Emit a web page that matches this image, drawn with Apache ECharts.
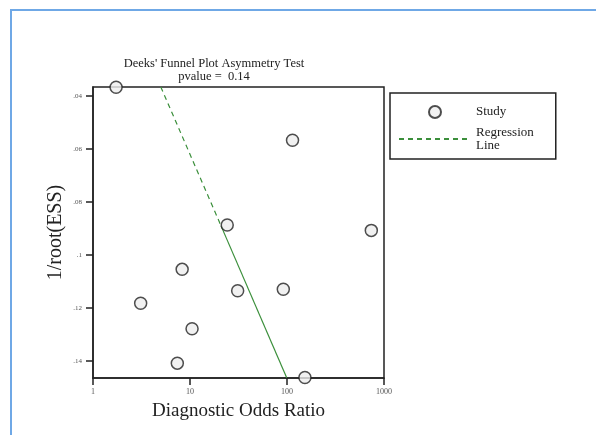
<!DOCTYPE html>
<html>
<head>
<meta charset="utf-8">
<script src="https://cdn.jsdelivr.net/npm/echarts@6/dist/echarts.min.js"></script>
<style>
  html, body { margin: 0; padding: 0; background: #fff; }
  #chart { width: 596px; height: 435px; }
</style>
</head>
<body>
<div id="chart"></div>
<script>
// study points: [diagnostic odds ratio, 1/root(ESS)]
const studyDOR = [1.73, 114, 24.2, 740, 8.3, 31, 91.6, 3.1, 10.5, 7.4, 153];
const studyInvEss = [0.0367, 0.0567, 0.0887, 0.0907, 0.1054, 0.1135, 0.1129, 0.1182, 0.1278, 0.1408, 0.1462];

// regression line, dashed part then solid part
const regDashed = [[5.0, 0.0366], [20.9, 0.089]];
const regSolid = [[20.9, 0.089], [99.3, 0.1463]];

const xTicks = [1, 10, 100, 1000];
const yTicks = [0.04, 0.06, 0.08, 0.1, 0.12, 0.14];
const yMin = 0.0366;
const yMax = 0.1464;

const SERIF = '"Liberation Serif", "DejaVu Serif", serif';
const GREEN = '#3b8f3b';

const fmtY = (v) => String(+v.toFixed(2)).replace(/^0/, '');

const chart = echarts.init(document.getElementById('chart'));

chart.setOption({
  animation: false,
  backgroundColor: '#fff',
  title: {
    text: "Deeks' Funnel Plot Asymmetry Test\npvalue =  0.14",
    left: 209,
    textAlign: 'center',
    top: 52,
    textStyle: {
      fontFamily: SERIF,
      fontSize: 12.5,
      fontWeight: 'normal',
      color: '#222',
      lineHeight: 13,
    },
  },
  graphic: [
    {
      type: 'rect',
      shape: { x: 11, y: 10, width: 600, height: 440 },
      style: { fill: 'none', stroke: '#6fa8e6', lineWidth: 2 },
      silent: true,
    },
  ],
  legend: {
    orient: 'vertical',
    left: 390,
    top: 93,
    padding: [12, 22, 7, 8],
    itemGap: 7,
    itemWidth: 72,
    itemHeight: 12,
    borderColor: '#222',
    borderWidth: 1.5,
    data: [
      { name: 'Study' },
      { name: 'Regression\nLine', itemStyle: { opacity: 0 } },
    ],
    textStyle: { fontFamily: SERIF, fontSize: 13, color: '#222', lineHeight: 13 },
  },
  grid: {
    left: 93,
    right: 212,
    top: 87,
    bottom: 57,
    show: true,
    borderColor: '#222',
    borderWidth: 1.5,
  },
  xAxis: {
    type: 'log',
    logBase: 10,
    min: 1,
    max: 1000,
    name: 'Diagnostic Odds Ratio',
    nameLocation: 'middle',
    nameGap: 24,
    nameTextStyle: { fontFamily: SERIF, fontSize: 19, color: '#222' },
    axisLine: { show: true, lineStyle: { color: '#222', width: 1.5 } },
    axisTick: { show: true, length: 7, lineStyle: { color: '#222', width: 1.5 }, customValues: xTicks },
    axisLabel: {
      fontFamily: SERIF,
      fontSize: 8,
      color: '#555',
      margin: 10,
      customValues: xTicks,
      formatter: (v) => String(Math.round(v)),
    },
    splitLine: { show: false },
  },
  yAxis: {
    type: 'value',
    inverse: true,
    min: yMin,
    max: yMax,
    name: '1/root(ESS)',
    nameLocation: 'middle',
    nameGap: 27,
    nameTextStyle: { fontFamily: SERIF, fontSize: 20, color: '#222' },
    axisLine: { show: true, lineStyle: { color: '#222', width: 1.5 } },
    axisTick: { show: true, length: 7, lineStyle: { color: '#222', width: 1.5 }, customValues: yTicks },
    axisLabel: {
      fontFamily: SERIF,
      fontSize: 7,
      color: '#555',
      margin: 11,
      customValues: yTicks,
      formatter: (v) => fmtY(v),
    },
    splitLine: { show: false },
  },
  series: [
    {
      name: 'Study',
      type: 'scatter',
      symbol: 'circle',
      symbolSize: 12,
      itemStyle: { color: '#eeeeee', borderColor: '#222', borderWidth: 1.5 },
      data: studyDOR.map((d, i) => [d, studyInvEss[i]]),
      z: 5,
    },
    {
      name: 'Regression\nLine',
      type: 'line',
      symbol: 'none',
      lineStyle: { color: GREEN, width: 1.2, type: [5, 4] },
      itemStyle: { color: GREEN },
      data: regDashed,
      z: 3,
    },
    {
      name: 'Regression\nLine',
      type: 'line',
      symbol: 'none',
      lineStyle: { color: GREEN, width: 1.2, type: 'solid' },
      itemStyle: { color: GREEN },
      data: regSolid,
      z: 3,
    },
  ],
});
</script>
</body>
</html>
